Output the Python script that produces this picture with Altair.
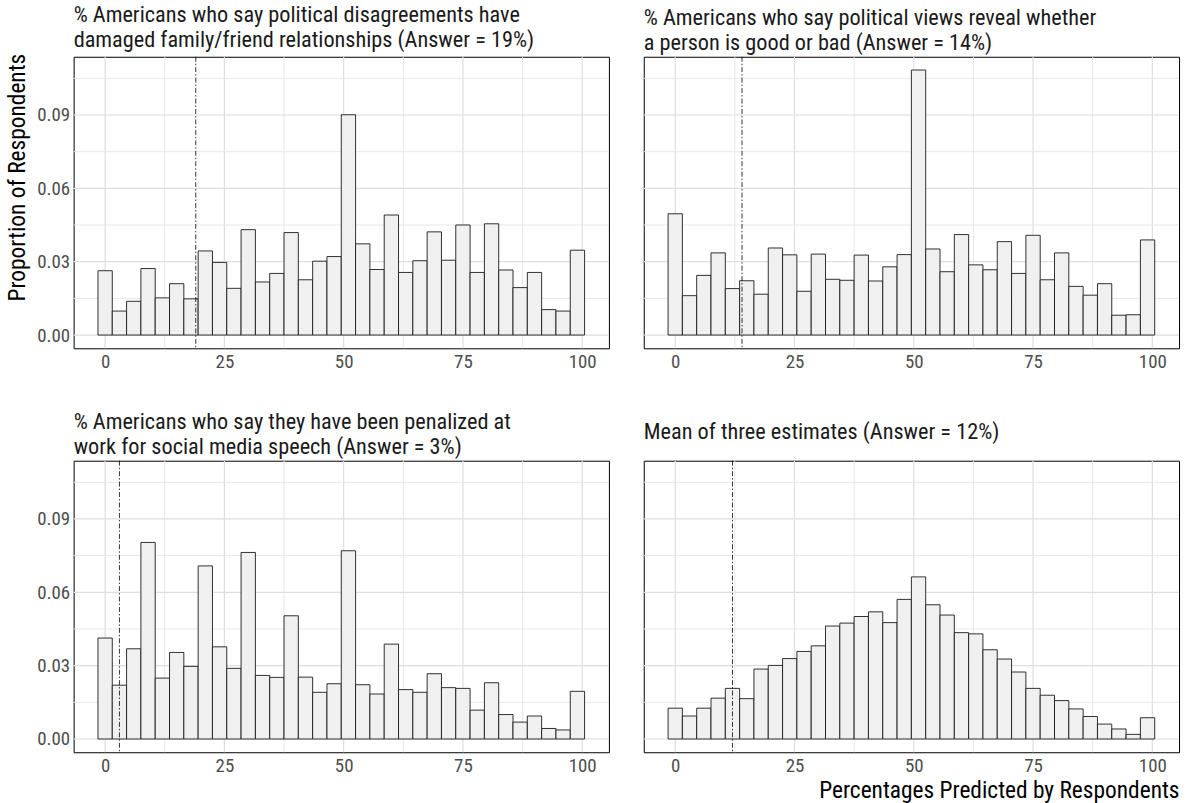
import altair as alt
import pandas as pd

# Histogram bins (width 3, centred on the listed values)
BIN_CENTERS = [0, 3, 6, 9, 12, 15, 18, 21, 24, 27, 30, 33, 36, 39, 42, 45, 48,
               51, 54, 57, 60, 63, 66, 69, 72, 75, 78, 81, 84, 87, 90, 93, 96, 99]
BIN_WIDTH = 3

# Proportion of respondents in each bin
FAMILY = [0.0263, 0.0098, 0.0138, 0.0272, 0.0152, 0.0210, 0.0148, 0.0344, 0.0297,
          0.0191, 0.0431, 0.0217, 0.0252, 0.0419, 0.0226, 0.0302, 0.0321, 0.0901,
          0.0373, 0.0268, 0.0491, 0.0256, 0.0304, 0.0422, 0.0306, 0.0450, 0.0256,
          0.0455, 0.0266, 0.0194, 0.0256, 0.0104, 0.0098, 0.0347]
VIEWS = [0.0496, 0.0161, 0.0244, 0.0336, 0.0190, 0.0222, 0.0167, 0.0356, 0.0328,
         0.0179, 0.0331, 0.0228, 0.0224, 0.0327, 0.0221, 0.0279, 0.0329, 0.1084,
         0.0352, 0.0259, 0.0411, 0.0287, 0.0267, 0.0382, 0.0252, 0.0408, 0.0226,
         0.0336, 0.0199, 0.0163, 0.0210, 0.0081, 0.0083, 0.0389]
PENALIZED = [0.0413, 0.0220, 0.0369, 0.0804, 0.0249, 0.0354, 0.0297, 0.0708, 0.0377,
             0.0289, 0.0763, 0.0260, 0.0252, 0.0504, 0.0253, 0.0191, 0.0226, 0.0770,
             0.0222, 0.0184, 0.0388, 0.0202, 0.0191, 0.0267, 0.0210, 0.0207, 0.0118,
             0.0230, 0.0100, 0.0069, 0.0094, 0.0043, 0.0037, 0.0195]
MEAN_THREE = [0.0126, 0.0094, 0.0126, 0.0167, 0.0207, 0.0165, 0.0286, 0.0301, 0.0329,
              0.0358, 0.0381, 0.0462, 0.0474, 0.0501, 0.0520, 0.0476, 0.0571, 0.0663,
              0.0549, 0.0507, 0.0435, 0.0430, 0.0365, 0.0327, 0.0274, 0.0207, 0.0179,
              0.0157, 0.0123, 0.0092, 0.0061, 0.0041, 0.0019, 0.0087]

TITLES = [
    ["% Americans who say political disagreements have",
     "damaged family/friend relationships (Answer = 19%)"],
    ["% Americans who say political views reveal whether",
     "a person is good or bad (Answer = 14%)"],
    ["% Americans who say they have been penalized at",
     "work for social media speech (Answer = 3%)"],
    ["Mean of three estimates (Answer = 12%)"],
]
ANSWERS = [19, 14, 3, 12]

X_TICKS = [0, 25, 50, 75, 100]
X_MINOR = [12.5, 37.5, 62.5, 87.5]
Y_TICKS = [0, 0.03, 0.06, 0.09]
Y_MINOR = [0.015, 0.045, 0.075, 0.105]

X_DOMAIN = [-6.6, 105.6]
Y_DOMAIN = [-0.00542, 0.11382]

FONT = "Roboto Condensed, Liberation Sans Narrow, Roboto"
W, H = 538, 293


def panel(values, title, answer, y_labels, y_title=None, x_title=None):
    xs = alt.Scale(domain=X_DOMAIN, nice=False, zero=False)
    ys = alt.Scale(domain=Y_DOMAIN, nice=False, zero=False)

    x_kw = dict(values=X_TICKS, grid=False, ticks=False, domain=False,
                labelFontSize=19, labelColor="#4D4D4D", labelPadding=4,
                labelFont=FONT)
    if x_title:
        x_kw.update(title=x_title, titleFont=FONT, titleFontSize=23.5,
                    titleFontWeight="normal", titleColor="black",
                    titleAnchor="end", titlePadding=3)
    else:
        x_kw.update(title=None)
    x_axis = alt.Axis(**x_kw)

    if y_labels:
        y_kw = dict(values=Y_TICKS, format=".2f", grid=False, ticks=False,
                    domain=False, labelFontSize=19, labelColor="#4D4D4D",
                    labelPadding=4, labelFont=FONT)
        if y_title:
            y_kw.update(title=y_title, titleFont=FONT, titleFontSize=23.5,
                        titleFontWeight="normal", titleColor="black",
                        titlePadding=7, titleAnchor="middle", titleY=121)
        else:
            y_kw.update(title=None)
        y_axis = alt.Axis(**y_kw)
    else:
        y_axis = None

    bars_df = pd.DataFrame({"center": BIN_CENTERS, "prop": values})

    vgrid = alt.Chart(pd.DataFrame({"v": X_TICKS})).mark_rule(
        color="#DEDEDE", strokeWidth=1.2).encode(x=alt.X("v:Q", scale=xs, axis=x_axis))
    vminor = alt.Chart(pd.DataFrame({"v": X_MINOR})).mark_rule(
        color="#E4E4E4", strokeWidth=0.9).encode(x=alt.X("v:Q", scale=xs, axis=x_axis))
    hgrid = alt.Chart(pd.DataFrame({"v": Y_TICKS})).mark_rule(
        color="#DEDEDE", strokeWidth=1.2).encode(y=alt.Y("v:Q", scale=ys, axis=y_axis))
    hminor = alt.Chart(pd.DataFrame({"v": Y_MINOR})).mark_rule(
        color="#E4E4E4", strokeWidth=0.9).encode(y=alt.Y("v:Q", scale=ys, axis=y_axis))

    bars = alt.Chart(bars_df).transform_calculate(
        lo=f"datum.center - {BIN_WIDTH / 2}",
        hi=f"datum.center + {BIN_WIDTH / 2}",
    ).mark_rect(fill="#F0F0F0", stroke="#1A1A1A", strokeWidth=0.9).encode(
        x=alt.X("lo:Q", scale=xs, axis=x_axis),
        x2="hi:Q",
        y=alt.Y("prop:Q", scale=ys, axis=y_axis),
        y2=alt.datum(0),
    )

    vline = alt.Chart(pd.DataFrame({"answer": [answer]})).mark_rule(
        color="black", strokeWidth=0.8, strokeDash=[5, 2, 1.5, 2]
    ).encode(x=alt.X("answer:Q", scale=xs, axis=x_axis))

    dy = -15 if len(title) == 1 else 0
    return alt.layer(vgrid, vminor, hgrid, hminor, bars, vline).properties(
        width=W, height=H,
        title=alt.TitleParams(text=title, anchor="start", frame="group",
                              font=FONT, fontSize=22.4, fontWeight="normal",
                              color="#1A1A1A", lineHeight=24.5, offset=2, dy=dy),
    )


p1 = panel(FAMILY, TITLES[0], ANSWERS[0], True, y_title="Proportion of Respondents")
p2 = panel(VIEWS, TITLES[1], ANSWERS[1], False)
p3 = panel(PENALIZED, TITLES[2], ANSWERS[2], True)
p4 = panel(MEAN_THREE, TITLES[3], ANSWERS[3], False,
           x_title="Percentages Predicted by Respondents")

chart = alt.concat(
    p1, p2, p3, p4, columns=2,
    spacing={"row": 39, "column": 31},
).properties(
    padding={"left": 5, "top": 2, "right": 5, "bottom": 5},
    background="white",
).configure_view(stroke="black", strokeWidth=1)

chart.save("out.html", embed_options={"renderer": "svg", "actions": False})
